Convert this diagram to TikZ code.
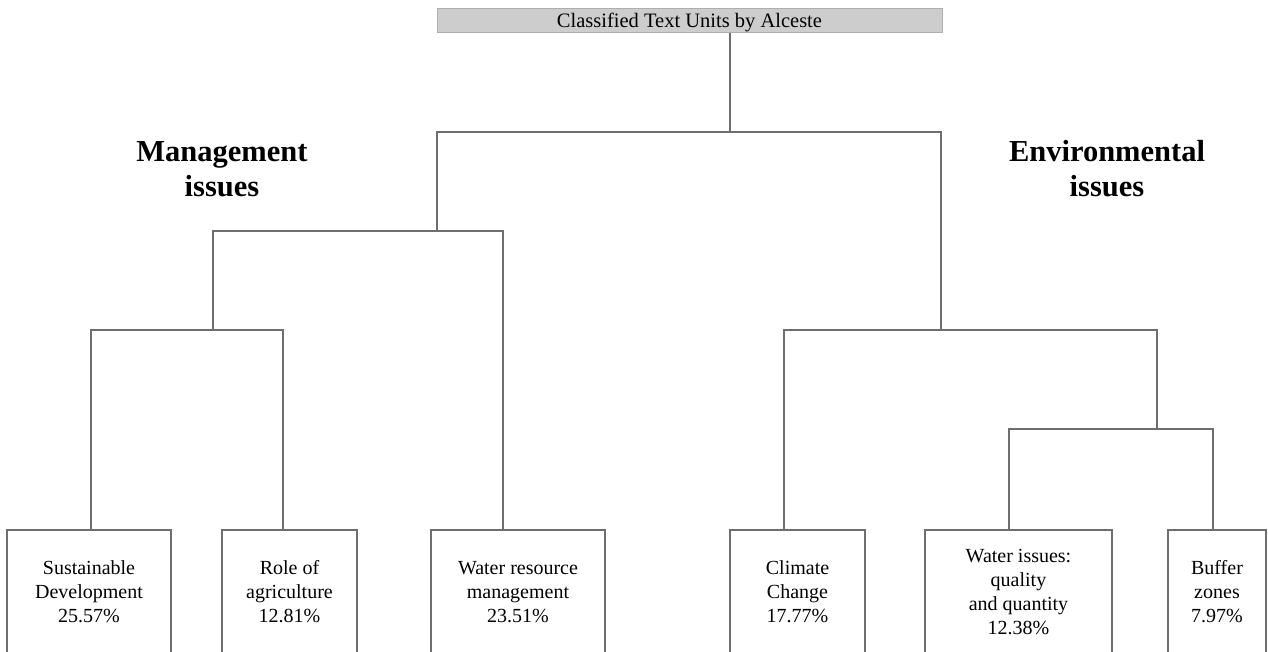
\documentclass[tikz,border=0pt]{standalone}
\usepackage{fontspec}
\setmainfont{Liberation Serif}
\usepackage{tikz}
\definecolor{linegray}{HTML}{6E6E6E}
\definecolor{barfill}{HTML}{CDCDCD}
\tikzset{
    bar/.style={fill=barfill, draw=barfill!85!black, line width=0.8pt, minimum width=505pt,
        minimum height=24pt, inner sep=0pt, text depth=0pt, font=\fontsize{20.5}{24}\selectfont},
    leaf/.style={draw=linegray, line width=1.6pt, minimum height=124pt, inner sep=0pt,
        align=center, font=\fontsize{20}{24}\selectfont},
    heading/.style={align=center, inner sep=0pt, font=\fontsize{30.5}{35}\selectfont\bfseries},
    link/.style={draw=linegray, line width=1.6pt}
}
\begin{document}
\begin{tikzpicture}[x=1pt, y=-1pt]
    \clip (0,0) rectangle (1268,651);
    \node[bar](root)                        at (689.5,20.5) {Classified Text Units by Alceste};
    \node[heading](mgmt)                    at (222,169) {Management\\issues};
    \node[heading](env)                     at (1107,169) {Environmental\\issues};
    \node[leaf, minimum width=164pt](sd)    at (89,592) {Sustainable\\Development\\25.57\%};
    \node[leaf, minimum width=135pt](ra)    at (289.5,592) {Role of\\agriculture\\12.81\%};
    \node[leaf, minimum width=174pt](wr)    at (518,592) {Water resource\\management\\23.51\%};
    \node[leaf, minimum width=135pt](cc)    at (797.5,592) {Climate\\Change\\17.77\%};
    \node[leaf, minimum width=187pt](wi)    at (1018.5,592) {Water issues:\\quality\\and quantity\\12.38\%};
    \node[leaf, minimum width=98pt](bz)     at (1217,592) {Buffer\\zones\\7.97\%};
    \coordinate (m1)  at (213,330);
    \coordinate (m2)  at (437,231);
    \coordinate (e1)  at (1157,429);
    \coordinate (e2)  at (941,330);
    \coordinate (top) at (730,132);
    \draw[link] ([xshift=2pt]sd.north) |- (m1) -| ([xshift=-6.5pt]ra.north);
    \draw[link] (m1) |- (m2) -| ([xshift=-15pt]wr.north);
    \draw[link] ([xshift=-9.5pt]wi.north) |- (e1) -| ([xshift=-4pt]bz.north);
    \draw[link] ([xshift=-13.5pt]cc.north) |- (e2) -| (e1);
    \draw[link] (m2) |- (top) -| (e2);
    \draw[link] (root.south -| top) -- (top);
\end{tikzpicture}
\end{document}
